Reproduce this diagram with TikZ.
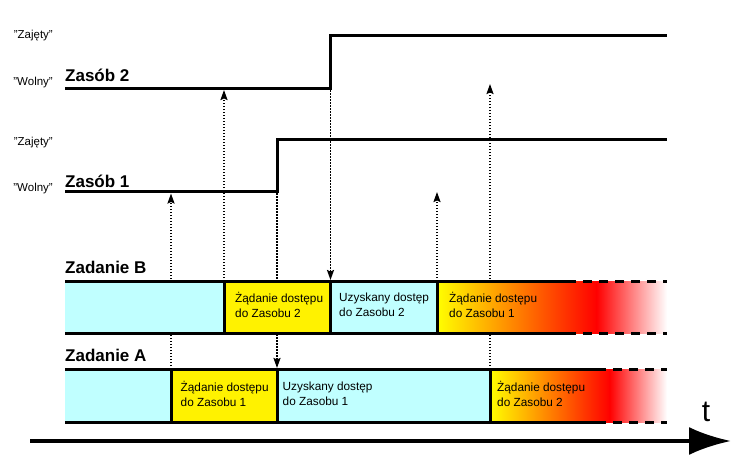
\documentclass[tikz,border=0pt]{standalone}
\usepackage{fontspec}
\setmainfont{Liberation Sans}
\usetikzlibrary{arrows.meta}
\definecolor{lcyan}{RGB}{192,255,255}
\begin{document}
\begin{tikzpicture}[x=1pt,y=-1pt,
  sig/.style={line width=3pt, line join=miter},
  bandline/.style={line width=3pt},
  banddash/.style={line width=3pt, dash pattern=on 9pt off 7pt},
  divider/.style={line width=3pt},
  dotarr/.style={line width=1.7pt, dash pattern=on 1.5pt off 1.5pt, -{Stealth[length=10pt,width=7pt,inset=1.5pt]}},
  lvl/.style={font=\fontsize{11.5}{13}\selectfont, anchor=base east, inner sep=0pt},
  ttl/.style={font=\fontsize{17}{20}\selectfont\bfseries, anchor=base west, inner sep=0pt},
  cell/.style={font=\fontsize{11.8}{15}\selectfont, align=left, anchor=west, inner sep=0pt},
]
\useasboundingbox (0,0) rectangle (741,461);

% level labels
\node[lvl] (z2busy) at (53,38.5) {"Zajęty"};
\node[lvl] (z2free) at (53,85) {"Wolny"};
\node[lvl] (z1busy) at (53,145) {"Zajęty"};
\node[lvl] (z1free) at (53,191.5) {"Wolny"};

% titles
\node[ttl] (tz2) at (65,81) {Zasób 2};
\node[ttl] (tz1) at (65,187.3) {Zasób 1};
\node[ttl] (tzb) at (65,273) {Zadanie B};
\node[ttl] (tza) at (65,361.7) {Zadanie A};

% resource signals
\coordinate (z2a) at (65,88);
\coordinate (z2s) at (330.5,88);
\coordinate (z2t) at (330.5,35);
\coordinate (z2e) at (667,35);
\coordinate (z1a) at (65,191.5);
\coordinate (z1s) at (277,191.5);
\coordinate (z1t) at (277,139);
\coordinate (z1e) at (667,139);
\draw[sig] (z2a) -- (z2s) -- (z2t) -- (z2e);
\draw[sig] (z1a) -- (z1s) -- (z1t) -- (z1e);

% dotted arrows
\coordinate (d1s) at (171,369);   \coordinate (d1e) at (171,193.5);
\coordinate (d2s) at (224,281);   \coordinate (d2e) at (224,90);
\coordinate (d3s) at (277,193);   \coordinate (d3e) at (277,368);
\coordinate (d4s) at (330.5,90);  \coordinate (d4e) at (330.5,280);
\coordinate (d5s) at (437,281);   \coordinate (d5e) at (437,192);
\coordinate (d6s) at (490,369);   \coordinate (d6e) at (490,84);
\draw[dotarr] (d1s) -- (d1e);
\draw[dotarr] (d2s) -- (d2e);
\draw[dotarr] (d3s) -- (d3e);
\draw[dotarr] (d4s) -- (d4e);
\draw[dotarr] (d5s) -- (d5e);
\draw[dotarr] (d6s) -- (d6e);

% band B fills
\fill[lcyan] (65,281) rectangle (224,333);
\fill[yellow] (224,281) rectangle (330.5,333);
\fill[lcyan] (330.5,281) rectangle (437,333);
\shade[left color=yellow, right color=red] (437,281) rectangle (597,333);
\shade[left color=red, right color=white] (596.5,281) rectangle (667,333);
% band A fills
\fill[lcyan] (65,369) rectangle (171,422);
\fill[yellow] (171,369) rectangle (277,422);
\fill[lcyan] (277,369) rectangle (490,422);
\shade[left color=yellow, right color=red] (490,369) rectangle (610,422);
\shade[left color=red, right color=white] (609.5,369) rectangle (667,422);

% band B borders
\coordinate (bt0) at (65,281);  \coordinate (bt1) at (567,281); \coordinate (bt2) at (667,281);
\coordinate (bb0) at (65,333);  \coordinate (bb1) at (567,333); \coordinate (bb2) at (667,333);
\draw[bandline] (bt0) -- (bt1);
\draw[banddash] (bt1) -- (bt2);
\draw[bandline] (bb0) -- (bb1);
\draw[banddash] (bb1) -- (bb2);
% band A borders
\coordinate (at0) at (65,369);  \coordinate (at1) at (597,369); \coordinate (at2) at (667,369);
\coordinate (ab0) at (65,422);  \coordinate (ab1) at (597,422); \coordinate (ab2) at (667,422);
\draw[bandline] (at0) -- (at1);
\draw[banddash] (at1) -- (at2);
\draw[bandline] (ab0) -- (ab1);
\draw[banddash] (ab1) -- (ab2);

% dividers
\draw[divider] (224,281) -- (224,333);
\draw[divider] (330.5,281) -- (330.5,333);
\draw[divider] (437,281) -- (437,333);
\draw[divider] (171,369) -- (171,422);
\draw[divider] (277,369) -- (277,422);
\draw[divider] (490,369) -- (490,422);

% cell texts
\node[cell] (tb1) at (235,304.5) {Żądanie dostępu\\do Zasobu 2};
\node[cell] (tb2) at (339,304.5) {Uzyskany dostęp\\do Zasobu 2};
\node[cell] (tb3) at (449,304.5) {Żądanie dostępu\\do Zasobu 1};
\node[cell] (ta1) at (180.5,393.5) {Żądanie dostępu\\do Zasobu 1};
\node[cell] (ta2) at (282.5,393.5) {Uzyskany dostęp\\do Zasobu 1};
\node[cell] (ta3) at (497,393.5) {Żądanie dostępu\\do Zasobu 2};

% time axis
\coordinate (ax0) at (30,441);
\coordinate (ax1) at (731,441);
\draw[line width=4pt, -{Latex[length=42pt,width=28pt]}] (ax0) -- (ax1);
\node[font=\fontsize{30}{30}\selectfont, anchor=base, inner sep=0pt] (tl) at (706,421) {t};
\end{tikzpicture}
\end{document}
